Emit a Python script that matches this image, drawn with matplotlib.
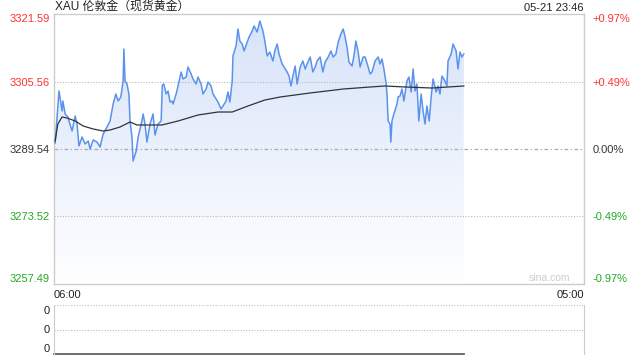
import matplotlib
matplotlib.use("Agg")
import matplotlib.pyplot as plt
import numpy as np

plt.rcParams["font.family"] = ["Liberation Sans", "Noto Sans CJK SC", "DejaVu Sans"]

# minutes after 06:00 and gold price
minutes = [3, 13, 21, 23, 29, 36, 47, 55, 60, 65, 73, 81, 89, 94, 102, 112, 120, 128, 138, 146,
           154, 161, 167, 174, 180, 182, 185, 190, 195, 198, 203, 206, 214, 219, 229, 232, 237, 242,
           250, 258, 263, 271, 279, 282, 286, 292, 297, 302, 307, 310, 318, 323, 331, 336, 344, 349,
           357, 362, 370, 375, 383, 388, 396, 401, 409, 414, 422, 427, 435, 440, 448, 453, 458, 464,
           466, 474, 479, 484, 490, 495, 503, 508, 516, 521, 529, 536, 544, 549, 555, 562, 570, 575,
           581, 586, 594, 599, 607, 612, 617, 622, 628, 633, 641, 648, 654, 659, 667, 674, 680, 685,
           693, 700, 706, 714, 721, 727, 734, 740, 747, 753, 758, 763, 768, 776, 781, 786, 792, 797,
           805, 810, 818, 823, 828, 836, 844, 849, 854, 859, 865, 867, 870, 875, 877, 880, 885, 893,
           896, 901, 906, 911, 919, 924, 930, 935, 940, 945, 950, 956, 961, 966, 971, 977, 982, 987,
           995, 1000, 1005, 1010, 1018, 1023, 1026, 1034, 1039, 1047, 1052, 1057, 1062, 1067]
prices = [3290.96, 3303.31, 3298.56, 3300.94, 3297.85, 3297.14, 3293.81, 3297.37, 3295.47, 3290.25,
          3292.39, 3290.73, 3291.44, 3289.54, 3291.68, 3291.20, 3290.01, 3293.10, 3294.76, 3296.19,
          3300.22, 3302.60, 3300.94, 3301.89, 3305.68, 3313.28, 3305.68, 3304.97, 3302.60, 3296.19,
          3292.39, 3286.69, 3289.07, 3292.39, 3296.19, 3297.85, 3295.47, 3291.20, 3295.47, 3297.85,
          3292.86, 3295.47, 3296.19, 3304.73, 3304.97, 3302.60, 3303.31, 3300.70, 3300.94, 3300.22,
          3302.60, 3304.50, 3307.82, 3306.16, 3306.63, 3309.01, 3307.35, 3306.16, 3304.97, 3306.63,
          3304.97, 3302.60, 3303.78, 3305.45, 3304.50, 3302.60, 3301.41, 3300.70, 3299.04, 3299.75,
          3300.94, 3303.07, 3300.70, 3305.68, 3311.62, 3313.99, 3318.03, 3315.18, 3314.47, 3312.81,
          3314.94, 3316.13, 3317.55, 3318.74, 3317.32, 3319.93, 3317.55, 3315.18, 3311.62, 3312.57,
          3310.43, 3312.81, 3314.47, 3312.09, 3309.72, 3309.01, 3307.82, 3306.87, 3304.50, 3306.87,
          3309.24, 3304.97, 3309.01, 3310.43, 3308.53, 3309.72, 3311.38, 3307.82, 3309.01, 3310.43,
          3311.38, 3307.82, 3310.19, 3311.38, 3312.81, 3311.38, 3312.09, 3314.94, 3316.84, 3318.03,
          3316.13, 3313.76, 3310.19, 3309.24, 3311.62, 3315.18, 3312.57, 3309.01, 3311.38, 3311.38,
          3309.01, 3307.35, 3307.82, 3310.43, 3311.38, 3309.72, 3310.91, 3308.53, 3304.97, 3302.60,
          3296.19, 3295.47, 3291.20, 3296.19, 3297.85, 3300.22, 3301.89, 3302.12, 3303.78, 3300.94,
          3305.68, 3306.63, 3303.07, 3308.53, 3303.31, 3304.97, 3296.19, 3302.60, 3298.56, 3295.47,
          3299.75, 3296.19, 3301.89, 3306.16, 3303.07, 3304.50, 3302.60, 3306.87, 3305.68, 3304.50,
          3310.43, 3312.09, 3314.47, 3312.81, 3308.53, 3312.57, 3311.38, 3312.09]

# average price line
avg_minutes = [3, 10, 21, 34, 55, 76, 102, 128, 146, 172, 198, 216, 242, 281, 323, 375, 427, 464,
               505, 549, 589, 667, 753, 823, 862, 914, 984, 1067]
avg_prices = [3291.44, 3295.47, 3297.14, 3296.90, 3296.19, 3295.00, 3294.29, 3293.81, 3294.05,
              3294.76, 3295.95, 3295.24, 3295.24, 3295.24, 3296.19, 3297.61, 3298.32, 3298.32,
              3299.75, 3301.17, 3301.89, 3302.84, 3303.78, 3304.26, 3304.50, 3304.26, 3304.02, 3304.50]

prev_close = 3289.54
price_ticks = [3257.49, 3273.52, 3289.54, 3305.56, 3321.59]
pct_labels = ["-0.97%", "-0.49%", "0.00%", "+0.49%", "+0.97%"]
tick_colors = ["#22aa22", "#22aa22", "#333333", "#ff3333", "#ff3333"]
session_len = 1380

fig = plt.figure(figsize=(6.4, 3.6), dpi=100)
ax = fig.add_axes([54 / 640, 1 - 284 / 360, 530 / 640, 270 / 360])
axv = fig.add_axes([54 / 640, 1 - 354 / 360, 530 / 640, 49 / 360])

ax.set_xlim(0, session_len)
ax.set_ylim(price_ticks[0], price_ticks[-1])

# gradient fill under the price line
grad = np.linspace(0, 1, 256).reshape(-1, 1)
top_c = np.array([0.84, 0.89, 0.98])
img = top_c[None, None, :] * (1 - grad[:, :, None]) + np.ones(3)[None, None, :] * grad[:, :, None]
poly = ax.fill_between(minutes, prices, price_ticks[0], color="none", lw=0)
im = ax.imshow(img, extent=[0, session_len, price_ticks[0], price_ticks[-1]], aspect="auto",
               origin="upper", zorder=1)
im.set_clip_path(poly.get_paths()[0], transform=ax.transData)

for v in [price_ticks[1], price_ticks[3]]:
    ax.axhline(v, color="#bbbbbb", lw=0.8, ls=(0, (1, 1.5)), zorder=2)
ax.axhline(prev_close, color="#aaaaaa", lw=0.9, ls=(0, (3, 2, 1, 2)), zorder=2)

ax.plot(minutes, prices, color="#5b93ec", lw=1.1, zorder=4)
ax.plot(avg_minutes, avg_prices, color="#333333", lw=0.9, zorder=5)

for s in ax.spines.values():
    s.set_color("#cccccc")
    s.set_linewidth(1.0)

ax.set_yticks(price_ticks)
ax.set_yticklabels([f"{v:.2f}" for v in price_ticks], fontsize=8)
for lbl, c in zip(ax.get_yticklabels(), tick_colors):
    lbl.set_color(c)
ax.get_yticklabels()[0].set_va("bottom")
ax.get_yticklabels()[-1].set_va("top")
ax.tick_params(axis="y", length=0, pad=3)

ax.set_xticks([0, session_len])
ax.set_xticklabels(["06:00", "05:00"], fontsize=8, color="#222222")
ax.get_xticklabels()[0].set_ha("left")
ax.get_xticklabels()[1].set_ha("right")
ax.tick_params(axis="x", length=0, pad=4)

ax2 = ax.twinx()
ax2.set_ylim(ax.get_ylim())
ax2.set_yticks(price_ticks)
ax2.set_yticklabels(pct_labels, fontsize=8)
for lbl, c in zip(ax2.get_yticklabels(), tick_colors):
    lbl.set_color(c)
ax2.get_yticklabels()[0].set_va("bottom")
ax2.get_yticklabels()[-1].set_va("top")
ax2.tick_params(axis="y", length=0, pad=6)
for s in ax2.spines.values():
    s.set_visible(False)

ax.text(0.935, 0.005, "sina.com", transform=ax.transAxes, ha="center", va="bottom",
        fontsize=7.5, color="#cccccc")

fig.text(55 / 640, 1 - 7 / 360, "XAU 伦敦金（现货黄金）", ha="left", va="center",
         fontsize=8.6, color="#222222")
fig.text(584 / 640, 1 - 8 / 360, "05-21 23:46", ha="right", va="center",
         fontsize=8, color="#222222")

# volume panel (empty)
axv.set_xlim(0, session_len)
axv.set_ylim(0, 1)
for v in [0, 0.5, 1]:
    axv.axhline(v, color="#bbbbbb", lw=0.8, ls=(0, (1, 1.5)))
axv.plot([0, minutes[-1]], [0, 0], color="#555555", lw=1.2, clip_on=False)
for k in ["top", "bottom"]:
    axv.spines[k].set_visible(False)
for k in ["left", "right"]:
    axv.spines[k].set_color("#cccccc")
axv.set_xticks([])
axv.set_yticks([0.12, 0.51, 0.9])
axv.set_yticklabels(["0", "0", "0"], fontsize=8, color="#222222")
axv.tick_params(axis="y", length=0, pad=3)

fig.savefig("out.png", dpi=100)
